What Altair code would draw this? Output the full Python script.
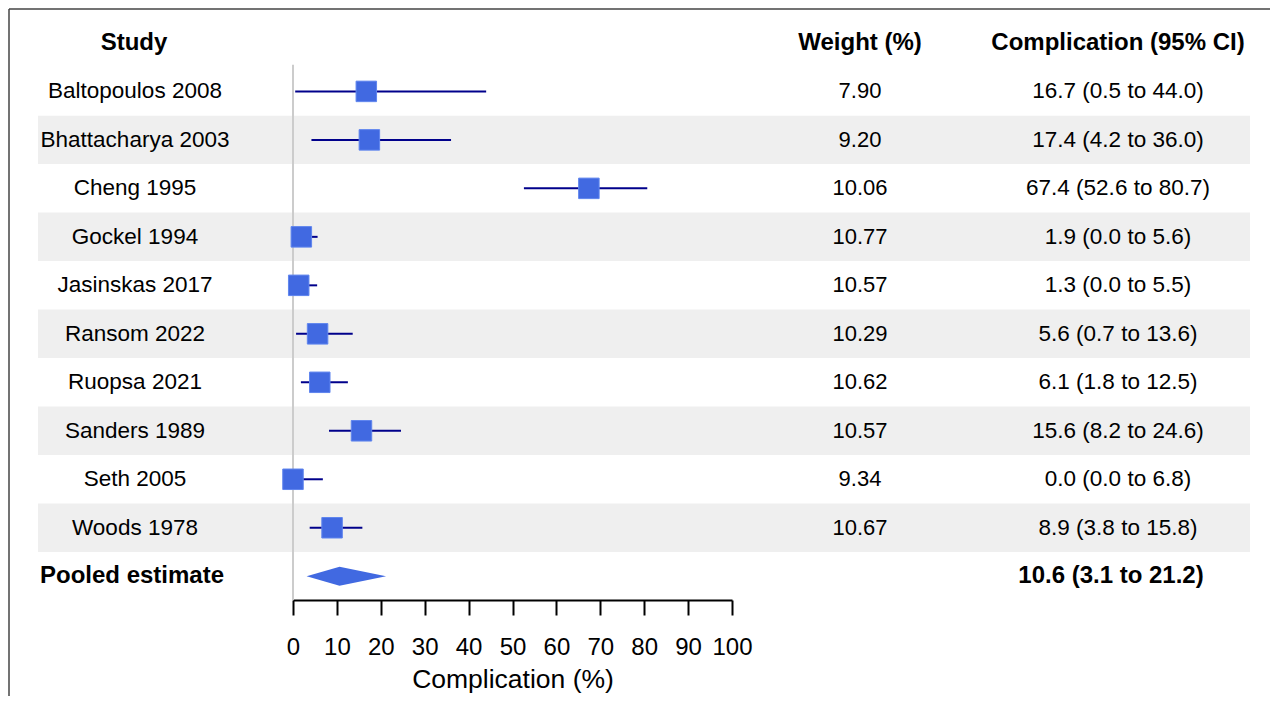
import altair as alt
import pandas as pd

studies = ["Baltopoulos 2008", "Bhattacharya 2003", "Cheng 1995", "Gockel 1994",
           "Jasinskas 2017", "Ransom 2022", "Ruopsa 2021", "Sanders 1989",
           "Seth 2005", "Woods 1978"]
estimates = [16.7, 17.4, 67.4, 1.9, 1.3, 5.6, 6.1, 15.6, 0.0, 8.9]
lower = [0.5, 4.2, 52.6, 0.0, 0.0, 0.7, 1.8, 8.2, 0.0, 3.8]
upper = [44.0, 36.0, 80.7, 5.6, 5.5, 13.6, 12.5, 24.6, 6.8, 15.8]
weights = ["7.90", "9.20", "10.06", "10.77", "10.57", "10.29", "10.62", "10.57", "9.34", "10.67"]
ci_labels = ["16.7 (0.5 to 44.0)", "17.4 (4.2 to 36.0)", "67.4 (52.6 to 80.7)",
             "1.9 (0.0 to 5.6)", "1.3 (0.0 to 5.5)", "5.6 (0.7 to 13.6)",
             "6.1 (1.8 to 12.5)", "15.6 (8.2 to 24.6)", "0.0 (0.0 to 6.8)",
             "8.9 (3.8 to 15.8)"]
pooled_label = "Pooled estimate"
pooled_est = 10.6
pooled_lo = 3.1
pooled_hi = 21.2
pooled_ci = "10.6 (3.1 to 21.2)"
headers = ["Study", "Weight (%)", "Complication (95% CI)"]
x_ticks = [0, 10, 20, 30, 40, 50, 60, 70, 80, 90, 100]

FONT = "Liberation Sans"
n = len(studies)
rows = list(range(1, n + 1))
pooled_row = n + 1

df = pd.DataFrame({"row": rows, "study": studies, "est": estimates, "lo": lower,
                   "hi": upper, "weight": weights, "ci": ci_labels})
stripe_df = pd.DataFrame({"y0": [r - 0.5 for r in rows if r % 2 == 0],
                          "y1": [r + 0.5 for r in rows if r % 2 == 0]})
hdr_df = pd.DataFrame({"row": [0, 0, 0], "text": headers, "col": ["study", "weight", "ci"]})
pooled_df = pd.DataFrame({"row": [pooled_row], "label": [pooled_label], "ci": [pooled_ci]})
dh = 0.196
diamond_df = pd.DataFrame({"x": [pooled_lo, pooled_est, pooled_hi],
                           "y": [pooled_row, pooled_row - dh, pooled_row],
                           "y2": [pooled_row, pooled_row + dh, pooled_row]})
zero_df = pd.DataFrame({"x": [0], "y": [0.45], "y2": [11.49]})

yscale = alt.Scale(domain=[-0.72, 11.49], reverse=True, nice=False, zero=False)
H = 592
W_LEFT, W_MID, W_RIGHT = 285, 439, 538
STRIPE = "#efefef"


def Y(field):
    return alt.Y(field, type="quantitative", scale=yscale, axis=None)


def Y2(field):
    return alt.Y2(field)


# ---------- left panel ----------
left_stripes = alt.Chart(stripe_df).mark_rect(color=STRIPE).encode(
    x=alt.value(30), x2=alt.value(W_LEFT), y=Y("y0"), y2=Y2("y1"))
left_text = alt.Chart(df).mark_text(fontSize=22.5, font=FONT, color="black", align="center",
                                    baseline="middle").encode(
    x=alt.value(127), y=Y("row"), text="study:N")
left_hdr = alt.Chart(hdr_df[hdr_df.col == "study"]).mark_text(
    fontSize=24, font=FONT, fontWeight="bold", color="black", align="center",
    baseline="middle").encode(x=alt.value(126), y=Y("row"), text="text:N")
left_pooled = alt.Chart(pooled_df).mark_text(
    fontSize=24, font=FONT, fontWeight="bold", color="black", align="left",
    baseline="middle").encode(x=alt.value(32), y=Y("row"), text="label:N")
frame_top = alt.Chart(pooled_df).mark_rule(color="#444444", strokeWidth=1.5).encode(
    x=alt.value(1), x2=alt.value(W_LEFT + W_MID + W_RIGHT), y=alt.value(1))
frame_left = alt.Chart(pooled_df).mark_rule(color="#444444", strokeWidth=1.5).encode(
    x=alt.value(1), y=alt.value(1), y2=alt.value(688))
left = alt.layer(left_stripes, left_text, left_hdr, left_pooled, frame_top, frame_left).properties(
    width=W_LEFT, height=H)

# ---------- middle panel ----------
xscale = alt.Scale(domain=[0, 100], nice=False, zero=False)
xaxis = alt.Axis(values=x_ticks, title="Complication (%)", labelFontSize=24, titleFontSize=26.5,
                 titleFontWeight="normal", labelFlush=False, labelOverlap=False, tickSize=15,
                 tickWidth=2, tickColor="black", domainColor="black", domainWidth=2, grid=False,
                 labelColor="black", titleColor="black", labelPadding=20, titlePadding=7,
                 labelFont=FONT, titleFont=FONT)


def X(field):
    return alt.X(field, type="quantitative", scale=xscale, axis=xaxis)


mid_stripes = alt.Chart(stripe_df).mark_rect(color=STRIPE).encode(
    x=alt.value(0), x2=alt.value(W_MID), y=Y("y0"), y2=Y2("y1"))
zero_line = alt.Chart(zero_df).mark_rule(color="#cccccc", strokeWidth=2).encode(
    x=X("x"), y=Y("y"), y2=Y2("y2"))
ci_lines = alt.Chart(df).mark_rule(color="#00008B", strokeWidth=2).encode(
    x=X("lo"), x2=alt.X2("hi"), y=Y("row"))
squares = alt.Chart(df).mark_square(filled=True, color="#4169E1", stroke="#5f85ee",
                                    strokeWidth=1, opacity=1, size=420).encode(
    x=X("est"), y=Y("row"))
diamond = alt.Chart(diamond_df).mark_area(color="#4169E1", opacity=1).encode(
    x=X("x"), y=Y("y"), y2=Y2("y2"))
mid = alt.layer(mid_stripes, zero_line, ci_lines, squares, diamond).properties(
    width=W_MID, height=H)

# ---------- right panel ----------
right_stripes = alt.Chart(stripe_df).mark_rect(color=STRIPE).encode(
    x=alt.value(0), x2=alt.value(518), y=Y("y0"), y2=Y2("y1"))
w_text = alt.Chart(df).mark_text(fontSize=22, font=FONT, color="black", align="center",
                                 baseline="middle").encode(
    x=alt.value(128), y=Y("row"), text="weight:N")
ci_text = alt.Chart(df).mark_text(fontSize=22.5, font=FONT, color="black", align="center",
                                  baseline="middle").encode(
    x=alt.value(386), y=Y("row"), text="ci:N")
w_hdr = alt.Chart(hdr_df[hdr_df.col == "weight"]).mark_text(
    fontSize=24, font=FONT, fontWeight="bold", color="black", align="center",
    baseline="middle").encode(x=alt.value(128), y=Y("row"), text="text:N")
ci_hdr = alt.Chart(hdr_df[hdr_df.col == "ci"]).mark_text(
    fontSize=24, font=FONT, fontWeight="bold", color="black", align="center",
    baseline="middle").encode(x=alt.value(386), y=Y("row"), text="text:N")
pooled_ci_text = alt.Chart(pooled_df).mark_text(
    fontSize=24, font=FONT, fontWeight="bold", color="black", align="center",
    baseline="middle").encode(x=alt.value(379), y=Y("row"), text="ci:N")
right = alt.layer(right_stripes, w_text, ci_text, w_hdr, ci_hdr, pooled_ci_text).properties(
    width=W_RIGHT, height=H)

chart = alt.hconcat(left, mid, right, spacing=0, bounds="flush").properties(
    padding=0, background="white"
).configure(font=FONT).configure_view(stroke="transparent", strokeWidth=0)

chart.save("out.html", embed_options={"renderer": "svg", "actions": False})
